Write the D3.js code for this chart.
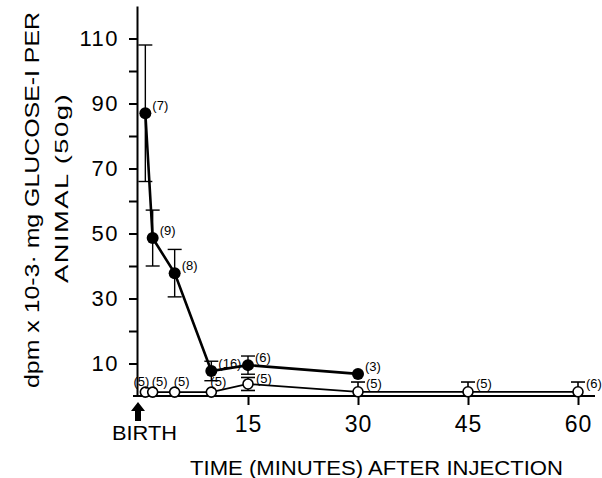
<!DOCTYPE html>
<html>
<head>
<meta charset="UTF-8">
<title>Glucose uptake after injection</title>
<style>
  body { margin: 0; background: #fff; }
  svg { display: block; font-family: 'Liberation Sans', Arial, sans-serif; }
  .axis path, .axis line { stroke: #000; stroke-width: 2; }
  .axis text { fill: #000; }
</style>
</head>
<body>
<script src="https://cdn.jsdelivr.net/npm/d3@7/dist/d3.min.js"></script>
<script>
// filled circles
const filledTimes = [1, 2, 5, 10, 15, 30];
const filledMeans = [87, 48.6, 37.8, 7.7, 9.5, 6.8];
const filledErr = [21, 8.6, 7.3, 3, 2.8, 0];
const filledN = [7, 9, 8, 16, 6, 3];

// open circles
const openTimes = [1, 2, 5, 10, 15, 30, 45, 60];
const openMeans = [1.2, 1.2, 1.2, 1.2, 3.7, 1.3, 1.3, 1.3];
const openErr = [0, 0, 0, 0, 2, 3, 3, 3];
const openN = [5, 5, 5, 5, 5, 5, 5, 6];

// axis ticks
const yLabelTicks = [10, 30, 50, 70, 90, 110];
const yMinorTicks = [20, 40, 60, 80, 100];
const xTickValues = [15, 30, 45, 60];

const W = 602, H = 478;

const svg = d3.select('body').append('svg')
    .attr('width', W)
    .attr('height', H);

svg.append('rect').attr('width', W).attr('height', H).attr('fill', '#fff');

const x = d3.scaleLinear().domain([0, 60]).range([138, 578]);
const y = d3.scaleLinear().domain([0, 120]).range([396, 6]);

// x axis line, ticks and labels
svg.append('line')
    .attr('x1', 133).attr('x2', 595)
    .attr('y1', y(0)).attr('y2', y(0))
    .attr('stroke', '#000').attr('stroke-width', 2.2);

const xAxis = svg.append('g')
    .attr('class', 'axis axis--x')
    .attr('transform', `translate(0,${y(0)})`)
    .call(d3.axisBottom(x).tickValues(xTickValues).tickSize(9).tickPadding(5).tickSizeOuter(0));
xAxis.select('.domain').remove();
xAxis.selectAll('text').attr('font-size', 23).attr('dy', '0.95em').attr('letter-spacing', 1);

// y axis
const yAxis = svg.append('g')
    .attr('class', 'axis axis--y')
    .attr('transform', `translate(${x(0) - 1},0)`)
    .call(d3.axisLeft(y).tickValues(yLabelTicks.concat(yMinorTicks))
        .tickFormat(d => yLabelTicks.includes(d) ? d : '')
        .tickSize(8).tickPadding(10).tickSizeOuter(0));
yAxis.selectAll('text').attr('font-size', 22).attr('letter-spacing', 1.5);

// BIRTH arrow at time zero
const ax = x(0);
svg.append('path')
    .attr('d', `M${ax},402 L${ax + 7},411 L${ax + 3},411 L${ax + 3},421 L${ax - 3},421 L${ax - 3},411 L${ax - 7},411 Z`)
    .attr('fill', '#000');
svg.append('text')
    .attr('x', 112).attr('y', 440)
    .attr('font-size', 21)
    .attr('textLength', 65).attr('lengthAdjust', 'spacingAndGlyphs')
    .text('BIRTH');

// axis titles
svg.append('text')
    .attr('x', 190).attr('y', 475)
    .attr('font-size', 21)
    .attr('textLength', 373).attr('lengthAdjust', 'spacingAndGlyphs')
    .text('TIME (MINUTES) AFTER INJECTION');

svg.append('text')
    .attr('transform', 'translate(39,388) rotate(-90)')
    .attr('font-size', 20)
    .attr('textLength', 376).attr('lengthAdjust', 'spacingAndGlyphs')
    .text('dpm x 10-3· mg GLUCOSE-I   PER');

svg.append('text')
    .attr('transform', 'translate(68,283) rotate(-90)')
    .attr('font-size', 19)
    .attr('letter-spacing', 1)
    .attr('textLength', 190).attr('lengthAdjust', 'spacingAndGlyphs')
    .text('ANIMAL (50g)');

// build point tables
const filled = filledTimes.map((t, i) => ({ t, v: filledMeans[i], e: filledErr[i], n: filledN[i] }));
const open = openTimes.map((t, i) => ({ t, v: openMeans[i], e: openErr[i], n: openN[i] }));

const line = d3.line().x(d => x(d.t)).y(d => y(d.v));

// error bars
function errorBars(data, cls, width) {
    const g = svg.append('g').attr('class', cls)
        .attr('stroke', '#000').attr('stroke-width', width);
    const bars = g.selectAll('g').data(data.filter(d => d.e > 0)).enter().append('g');
    bars.append('line')
        .attr('x1', d => x(d.t)).attr('x2', d => x(d.t))
        .attr('y1', d => y(d.v + d.e)).attr('y2', d => y(Math.max(0, d.v - d.e)));
    bars.append('line')
        .attr('x1', d => x(d.t) - 7).attr('x2', d => x(d.t) + 7)
        .attr('y1', d => y(d.v + d.e)).attr('y2', d => y(d.v + d.e));
    bars.filter(d => d.v - d.e > 0.5).append('line')
        .attr('x1', d => x(d.t) - 7).attr('x2', d => x(d.t) + 7)
        .attr('y1', d => y(d.v - d.e)).attr('y2', d => y(d.v - d.e));
}

errorBars(open, 'err-open', 1.6);

// open series line and circles
svg.append('path')
    .datum(open)
    .attr('d', line)
    .attr('fill', 'none').attr('stroke', '#000').attr('stroke-width', 1.8);

svg.selectAll('.open-dot')
    .data(open).enter().append('circle')
    .attr('class', 'open-dot')
    .attr('cx', d => x(d.t)).attr('cy', d => y(d.v))
    .attr('r', 5)
    .attr('fill', '#fff').attr('stroke', '#000').attr('stroke-width', 1.6);

errorBars(filled, 'err-filled', 1.4);

// filled series line and circles
svg.append('path')
    .datum(filled)
    .attr('d', line)
    .attr('fill', 'none').attr('stroke', '#000').attr('stroke-width', 2.6);

svg.selectAll('.filled-dot')
    .data(filled).enter().append('circle')
    .attr('class', 'filled-dot')
    .attr('cx', d => x(d.t)).attr('cy', d => y(d.v))
    .attr('r', 6)
    .attr('fill', '#000');

// sample size labels
svg.selectAll('.filled-n')
    .data(filled).enter().append('text')
    .attr('class', 'filled-n')
    .attr('x', d => x(d.t) + 7)
    .attr('y', d => y(d.v) - 3)
    .attr('font-size', 13)
    .text(d => `(${d.n})`);

// first open label sits left of the second one, the rest start at the point
svg.selectAll('.open-n')
    .data(open).enter().append('text')
    .attr('class', 'open-n')
    .attr('x', (d, i) => i === 0 ? x(d.t) + 4 : d.t <= 10 ? x(d.t) - 1 : x(d.t) + 8)
    .attr('text-anchor', (d, i) => i === 0 ? 'end' : 'start')
    .attr('y', d => d.t <= 10 ? y(d.v) - 6 : y(d.v + d.e) + 6)
    .attr('font-size', 13)
    .text(d => `(${d.n})`);
</script>
</body>
</html>
